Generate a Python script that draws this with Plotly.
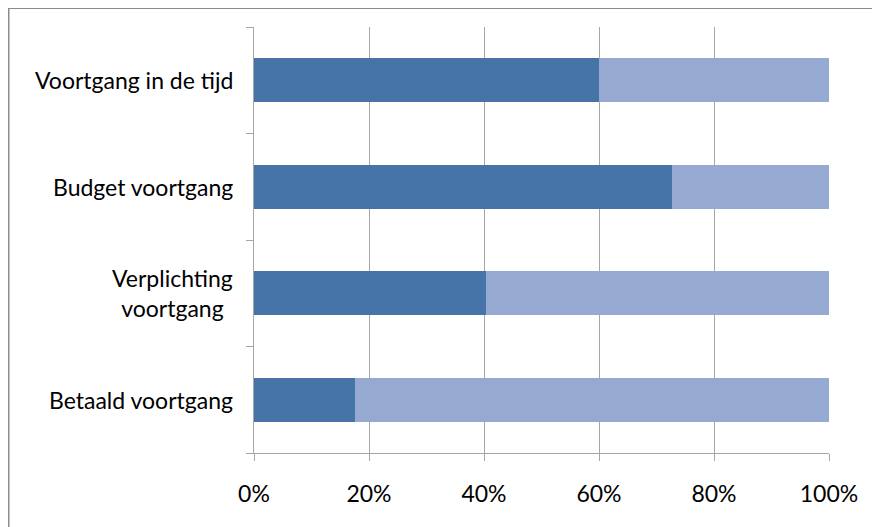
import plotly.graph_objects as go

categories = ["Voortgang in de tijd", "Budget voortgang", "Verplichting<br>voortgang", "Betaald voortgang"]
done = [0.60, 0.727, 0.403, 0.176]
remaining = [1 - v for v in done]
x_ticks = [0, 0.2, 0.4, 0.6, 0.8, 1.0]
x_tick_labels = ["0%", "20%", "40%", "60%", "80%", "100%"]

FONT = "Lato"
# the page body adds an 8px offset, so the figure is drawn 8px smaller
W, H = 872, 519
L, R, T, B = 246, 51, 19, 74

fig = go.Figure()
fig.add_trace(go.Bar(y=categories, x=done, orientation="h", marker=dict(color="#4674A8", line=dict(width=0)), name="gerealiseerd"))
fig.add_trace(go.Bar(y=categories, x=remaining, orientation="h", marker=dict(color="#95A9D1", line=dict(width=0)), name="resterend"))

annotations = []
for c in categories:
    annotations.append(dict(
        x=0, xref="paper", y=c, yref="y", text=c, showarrow=False,
        xanchor="right", yanchor="middle", align="center", xshift=-19,
        font=dict(family=FONT, size=23, color="#000000"),
    ))

pw = W - L - R
ph = H - T - B
def px_x(px):
    return (px - L) / pw
def px_y(py):
    return 1 - (py - T) / ph

fig.update_layout(
    width=W, height=H,
    margin=dict(l=L, r=R, t=T, b=B, pad=0),
    barmode="stack", bargap=0.59,
    showlegend=False,
    plot_bgcolor="white", paper_bgcolor="white",
    font=dict(family=FONT, size=23, color="#000000"),
    annotations=annotations,
    shapes=[dict(type="rect", xref="paper", yref="paper",
                 x0=px_x(0.5), x1=px_x(900), y0=px_y(560), y1=px_y(0),
                 line=dict(color="#8C8C8C", width=2), layer="below")],
    xaxis=dict(range=[0, 1], tickvals=x_ticks, ticktext=x_tick_labels,
               showgrid=True, gridcolor="#A6A6A6", gridwidth=1,
               showline=True, linecolor="#A6A6A6", linewidth=1,
               ticks="outside", ticklen=7, tickcolor="#A6A6A6",
               ticklabelstandoff=13, zeroline=False,
               tickfont=dict(family=FONT, size=23, color="#000000")),
    yaxis=dict(categoryorder="array", categoryarray=categories[::-1],
               showticklabels=False, showline=True, linecolor="#A6A6A6", linewidth=1,
               ticks="outside", ticklen=7, tickcolor="#A6A6A6", tickson="boundaries",
               showgrid=False, zeroline=False),
)

fig.write_html("out.html")
